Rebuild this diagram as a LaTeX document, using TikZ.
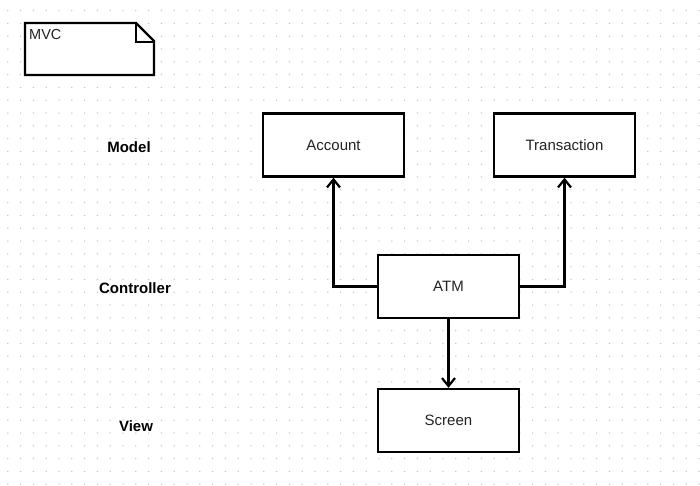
\documentclass[tikz,border=0pt]{standalone}
\usepackage{fontspec}
\setmainfont{Liberation Sans}
\usetikzlibrary{arrows.meta}
\definecolor{griddot}{RGB}{195,195,195}
\definecolor{txt}{RGB}{35,35,35}
\tikzset{
  box/.style={draw=black, line width=2.4pt, fill=white, minimum width=141pt, minimum height=63pt, inner sep=0pt, font=\fontsize{15pt}{17pt}\selectfont, text=txt},
  lbl/.style={font=\bfseries\fontsize{15pt}{17pt}\selectfont, text=black, inner sep=0pt},
  conn/.style={draw=black, line width=2.4pt, -{Straight Barb[length=8pt,width=13pt,line width=2.2pt]}},
}
\begin{document}
\begin{tikzpicture}[x=1pt,y=-1pt]
\useasboundingbox (0,0) rectangle (700,485);
\fill[white] (0,0) rectangle (700,485);
% dot grid
\foreach \i in {0,...,54} {
  \foreach \j in {0,...,37} {
    \fill[griddot] ({7.8+12.8*\i},{10.6+12.8*\j}) circle (0.75);
  }
}
% MVC note
\draw[line width=2.4pt, fill=white, line join=miter] (25,23) -- (136,23) -- (154,41) -- (154,75) -- (25,75) -- cycle;
\draw[line width=1.8pt] (136,23) -- (136,42) -- (154,42);
\node[anchor=north west, inner sep=0pt, font=\fontsize{14.5pt}{16pt}\selectfont, text=txt] (mvc) at (29,29.5) {MVC};
% labels
\node[lbl] (model) at (129,147) {Model};
\node[lbl] (controller) at (135,288) {Controller};
\node[lbl] (view) at (136,426) {View};
% boxes
\node[box] (account) at (333.5,145) {Account};
\node[box] (transaction) at (564.5,145) {Transaction};
\node[box] (atm) at (448.5,286.5) {ATM};
\node[box] (screen) at (448.5,420.5) {Screen};
% connectors
\draw[conn] (atm.west) -| (account.south);
\draw[conn] (atm.east) -| (transaction.south);
\draw[conn] (atm.south) -- (screen.north);
\end{tikzpicture}
\end{document}
